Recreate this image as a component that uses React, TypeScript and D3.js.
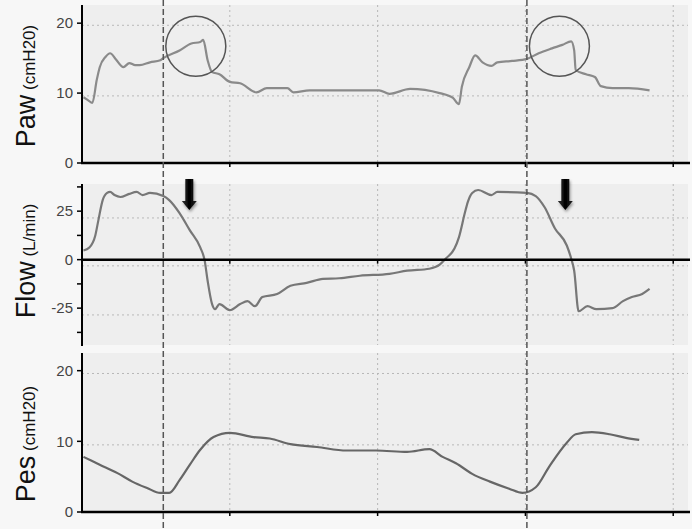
import React from "react";
import * as d3 from "d3";

// time in grid units (one vertical gridline per unit)
const pawPoints: [number, number][] = [
  [0.01, 9.4], [0.04, 9.0], [0.07, 8.6], [0.1, 11.9], [0.12, 13.7], [0.16, 15.2], [0.19, 15.7], [0.23, 14.8], [0.28, 13.7],
  [0.32, 14.3], [0.36, 14.0], [0.39, 14.0], [0.46, 14.4], [0.53, 14.7], [0.55, 15.0], [0.66, 16.1], [0.74, 17.1],
  [0.8, 17.3], [0.82, 17.6], [0.85, 14.7], [0.88, 13.0], [0.93, 12.7], [1.0, 11.6], [1.07, 11.4],
  [1.18, 10.1], [1.25, 10.7], [1.39, 10.7], [1.43, 10.1], [1.54, 10.4], [1.74, 10.4], [2.01, 10.4],
  [2.08, 9.9], [2.22, 10.6], [2.42, 10.0], [2.51, 9.3], [2.55, 8.4], [2.57, 10.9], [2.62, 13.7],
  [2.66, 15.4], [2.71, 14.4], [2.77, 13.9], [2.81, 14.4], [2.91, 14.6], [3.01, 14.9], [3.09, 15.7],
  [3.18, 16.4], [3.25, 16.9], [3.31, 17.4], [3.33, 16.1], [3.34, 13.3], [3.41, 12.7], [3.47, 12.3],
  [3.51, 11.0], [3.59, 10.7], [3.7, 10.7], [3.84, 10.4],
];

const flowPoints: [number, number][] = [
  [0.01, 4.7], [0.05, 6.3], [0.09, 12.5], [0.11, 20], [0.14, 30.7], [0.17, 34.4], [0.19, 34.9],
  [0.22, 33.3], [0.26, 32.3], [0.32, 33.9], [0.37, 34.9], [0.41, 33.3], [0.46, 34.4], [0.55, 32.8],
  [0.59, 30.7], [0.66, 24], [0.73, 15.1], [0.8, 6.3], [0.83, -0.5], [0.85, -10.9], [0.88, -22.9],
  [0.9, -25.5], [0.93, -22.9], [1.0, -26], [1.07, -22.9], [1.12, -21.4], [1.17, -24], [1.22, -19.3],
  [1.32, -17.7], [1.41, -13.5], [1.52, -12], [1.63, -9.9], [1.74, -9.6], [1.88, -8.3], [2.08, -7.3],
  [2.2, -5.7], [2.35, -4.7], [2.42, -2.6], [2.46, 0.5], [2.52, 5.7], [2.55, 11.5], [2.59, 24],
  [2.61, 29.7], [2.64, 34.4], [2.68, 35.9], [2.77, 33.3], [2.81, 34.9], [3.01, 34.4], [3.07, 32.8],
  [3.13, 27], [3.2, 16.1], [3.28, 7.3], [3.31, 0.5], [3.33, -5.7], [3.36, -26.6], [3.42, -24],
  [3.48, -25.5], [3.59, -25], [3.66, -21.4], [3.72, -19.3], [3.79, -17.7], [3.84, -15.1],
];

const pesPoints: [number, number][] = [
  [0.01, 7.8], [0.12, 6.7], [0.24, 5.5], [0.34, 4.3], [0.44, 3.4], [0.53, 2.7], [0.59, 2.7],
  [0.66, 4.5], [0.73, 6.7], [0.8, 8.8], [0.89, 10.6], [1.0, 11.2], [1.16, 10.6], [1.27, 10.4],
  [1.41, 9.6], [1.59, 9.2], [1.79, 8.7], [1.99, 8.7], [2.2, 8.5], [2.35, 8.9], [2.44, 7.8],
  [2.53, 6.9], [2.64, 5.4], [2.76, 4.3], [2.89, 3.3], [2.98, 2.7], [3.07, 3.5], [3.16, 6.4],
  [3.28, 9.8], [3.34, 11.0], [3.45, 11.3], [3.57, 11.0], [3.68, 10.5], [3.77, 10.2],
];

const xTicks = [1, 2, 3, 4];
const markerTimes = [0.55, 3.01];
const circleMarks: [number, number][] = [[0.77, 16.7], [3.23, 16.7]];
const arrowTimes = [0.726, 3.27];

const pawTicks = [0, 10, 20];
const pawGrid = [9.6, 19.7];
const flowTicks = [-37.5, -25, -12.5, 0, 12.5, 25, 37.5];
const flowLabels = [-25, 0, 25];
const flowGrid = [21.5, -3.2, -28.5];
const pesTicks = [0, 10, 20];
const pesGrid = [9.5, 19.6];

const W = 692;
const H = 529;
const X0 = 82;
const X1 = 688;

const x = d3.scaleLinear().domain([0, 4.1]).range([X0, X1]);
const yPaw = d3.scaleLinear().domain([0, 22.6]).range([163, 5]);
const yFlow = d3.scaleLinear().domain([-44, 39]).range([345, 184]);
const yPes = d3.scaleLinear().domain([0, 22.5]).range([512, 353]);

const FONT = "'Liberation Sans', Arial, Helvetica, sans-serif";

function Panel({
  y, ticks, labels, grid, points, axisValue, title, unit, labelY, stroke, curve,
}: any) {
  const [top, bottom] = [y.range()[1], y.range()[0]];
  const line = d3
    .line<[number, number]>()
    .x((d) => x(d[0]))
    .y((d) => y(d[1]))
    .curve(curve);
  const axY = y(axisValue);
  return (
    <g>
      <rect x={X0} y={top} width={X1 - X0} height={bottom - top} fill="#eeeeee" />
      {grid.map((g: number) => (
        <line key={"g" + g} x1={X0} x2={X1} y1={y(g)} y2={y(g)} stroke="#b8b8b8" strokeWidth={1} strokeDasharray="2,3" />
      ))}
      {xTicks.map((t) => (
        <line key={"v" + t} x1={x(t)} x2={x(t)} y1={top} y2={bottom} stroke="#b8b8b8" strokeWidth={1} strokeDasharray="2,3" />
      ))}
      <path d={line(points) || ""} fill="none" stroke={stroke} strokeWidth={2.2} strokeLinejoin="round" />
      <line x1={X0} x2={X0} y1={top} y2={bottom + 1} stroke="#000" strokeWidth={2} />
      <line x1={X0 - 1} x2={X1 + 2} y1={axY} y2={axY} stroke="#000" strokeWidth={2.5} />
      {xTicks.map((t) => (
        <line key={"xt" + t} x1={x(t)} x2={x(t)} y1={axY} y2={axY + 4} stroke="#000" strokeWidth={1.5} />
      ))}
      {ticks.map((t: number) => (
        <line key={"t" + t} x1={X0 - 5} x2={X0} y1={y(t)} y2={y(t)} stroke="#000" strokeWidth={1.5} />
      ))}
      {labels.map((t: number) => (
        <text key={"l" + t} x={X0 - 9} y={y(t)} dy="0.35em" textAnchor="end" fontSize={15} fill="#444" fontFamily={FONT}>
          {t < 0 ? "-" + Math.abs(t) : t}
        </text>
      ))}
      <text
        transform={`translate(35,${labelY}) rotate(-90)`}
        textAnchor="middle"
        fontFamily={FONT}
        fill="#111"
      >
        <tspan fontSize={27}>{title}</tspan>
        <tspan fontSize={17}>{" " + unit}</tspan>
      </text>
    </g>
  );
}

export default function App() {
  return (
    <div style={{ position: "absolute", left: 0, top: 0 }}>
      <svg width={W} height={H} style={{ display: "block", background: "#f7f7f7" }}>
        <defs>
          <linearGradient id="arrowGrad" x1="0" x2="1" y1="0" y2="0">
            <stop offset="0" stopColor="#333" />
            <stop offset="0.5" stopColor="#000" />
            <stop offset="1" stopColor="#222" />
          </linearGradient>
          <filter id="shadow" x="-50%" y="-50%" width="200%" height="200%">
            <feGaussianBlur in="SourceAlpha" stdDeviation="1.5" />
            <feOffset dx="1" dy="2" result="b" />
            <feComponentTransfer><feFuncA type="linear" slope="0.4" /></feComponentTransfer>
            <feMerge>
              <feMergeNode />
              <feMergeNode in="SourceGraphic" />
            </feMerge>
          </filter>
        </defs>
        <Panel y={yPaw} ticks={pawTicks} labels={pawTicks} grid={pawGrid} points={pawPoints} axisValue={0}
          title="Paw" unit="(cmH20)" labelY={86} stroke="#8a8a8a" curve={d3.curveMonotoneX} />
        <Panel y={yFlow} ticks={flowTicks} labels={flowLabels} grid={flowGrid} points={flowPoints} axisValue={0}
          title="Flow" unit="(L/min)" labelY={261} stroke="#777" curve={d3.curveMonotoneX} />
        <Panel y={yPes} ticks={pesTicks} labels={pesTicks} grid={pesGrid} points={pesPoints} axisValue={0}
          title="Pes" unit="(cmH20)" labelY={444} stroke="#666" curve={d3.curveMonotoneX} />
        {markerTimes.map((t) => (
          <line key={"m" + t} x1={x(t)} x2={x(t)} y1={0} y2={H} stroke="#555" strokeWidth={1.5} strokeDasharray="6,3" />
        ))}
        {circleMarks.map(([t, v], i) => (
          <circle key={"c" + i} cx={x(t)} cy={yPaw(v)} r={30} fill="none" stroke="#555" strokeWidth={1.5} />
        ))}
        {arrowTimes.map((t, i) => {
          const cx = x(t);
          const y0 = 179;
          return (
            <path
              key={"a" + i}
              filter="url(#shadow)"
              fill="url(#arrowGrad)"
              d={`M${cx - 4},${y0} L${cx + 4},${y0} L${cx + 4},${y0 + 22} L${cx + 7.5},${y0 + 22} L${cx},${y0 + 31} L${cx - 7.5},${y0 + 22} L${cx - 4},${y0 + 22} Z`}
            />
          );
        })}
      </svg>
    </div>
  );
}
